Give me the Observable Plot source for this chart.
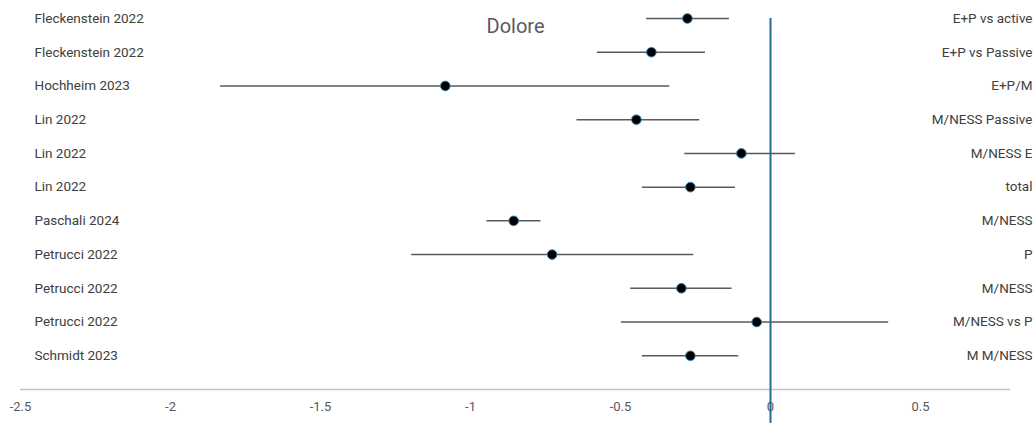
<!DOCTYPE html>
<html>
<head>
<meta charset="utf-8">
<script src="https://cdn.jsdelivr.net/npm/d3@7"></script>
<script src="https://cdn.jsdelivr.net/npm/@observablehq/plot@0.6"></script>
<style>
  html, body { margin: 0; padding: 0; background: #fff; }
  svg { display: block; }
</style>
</head>
<body>
<div id="chart"></div>
<script>
const studies = ["Fleckenstein 2022","Fleckenstein 2022","Hochheim 2023","Lin 2022","Lin 2022","Lin 2022","Paschali 2024","Petrucci 2022","Petrucci 2022","Petrucci 2022","Schmidt 2023"];
const comparisons = ["E+P vs active","E+P vs Passive","E+P/M","M/NESS Passive","M/NESS E","total","M/NESS","P","M/NESS","M/NESS vs P","M M/NESS"];
const effects = [-0.277,-0.397,-1.084,-0.447,-0.097,-0.267,-0.856,-0.728,-0.297,-0.046,-0.267];
const lower   = [-0.413,-0.577,-1.833,-0.645,-0.286,-0.427,-0.945,-1.196,-0.466,-0.497,-0.427];
const upper   = [-0.137,-0.217,-0.336,-0.236, 0.083,-0.117,-0.765,-0.256,-0.128, 0.394,-0.106];
const xTicks = [-2.5,-2,-1.5,-1,-0.5,0,0.5];
const title = "Dolore";

const rows = studies.map((s,i)=>({i, study:s, comp:comparisons[i], est:effects[i], lo:lower[i], hi:upper[i]}));
const n = rows.length;
const font = "Roboto, 'Open Sans', sans-serif";

const chart = Plot.plot({
  width: 1035,
  height: 423,
  marginLeft: 20,
  marginRight: 25,
  marginTop: 0,
  marginBottom: 34,
  style: {fontFamily: font, background: "#fff", overflow: "visible"},
  x: {domain: [-2.5, 0.8], axis: null},
  y: {domain: [0, n], range: [18, 423 - 34], axis: null},
  marks: [
    Plot.ruleY([n], {x1: -2.5, x2: 0.8, stroke: "#c4c4c4", strokeWidth: 1.5}),
    Plot.axisX(xTicks, {anchor: "bottom", tickSize: 0, tickPadding: 12, fontSize: 13, fill: "#595959", tickFormat: d => String(d)}),
    Plot.ruleY(rows, {y: "i", x1: "lo", x2: "hi", stroke: "#5a5a5a", strokeWidth: 1.5}),
    Plot.ruleX([0], {y1: 0, y2: n + 1.2, stroke: "#236e96", strokeWidth: 2, clip: false}),
    Plot.dot(rows, {x: "est", y: "i", r: 4.8, fill: "#000", stroke: "#2f7fb0", strokeWidth: 1}),
    Plot.text(rows, {y: "i", text: "study", frameAnchor: "left", dx: 14, textAnchor: "start", fontSize: 13.5, fill: "#404040"}),
    Plot.text(rows, {y: "i", text: "comp", frameAnchor: "right", dx: 22, textAnchor: "end", fontSize: 13.5, fill: "#404040"}),
    Plot.text([title], {frameAnchor: "top", lineAnchor: "middle", dy: 26, text: d => d, fontSize: 20, fill: "#595959"})
  ]
});
document.getElementById("chart").appendChild(chart);
</script>
</body>
</html>
